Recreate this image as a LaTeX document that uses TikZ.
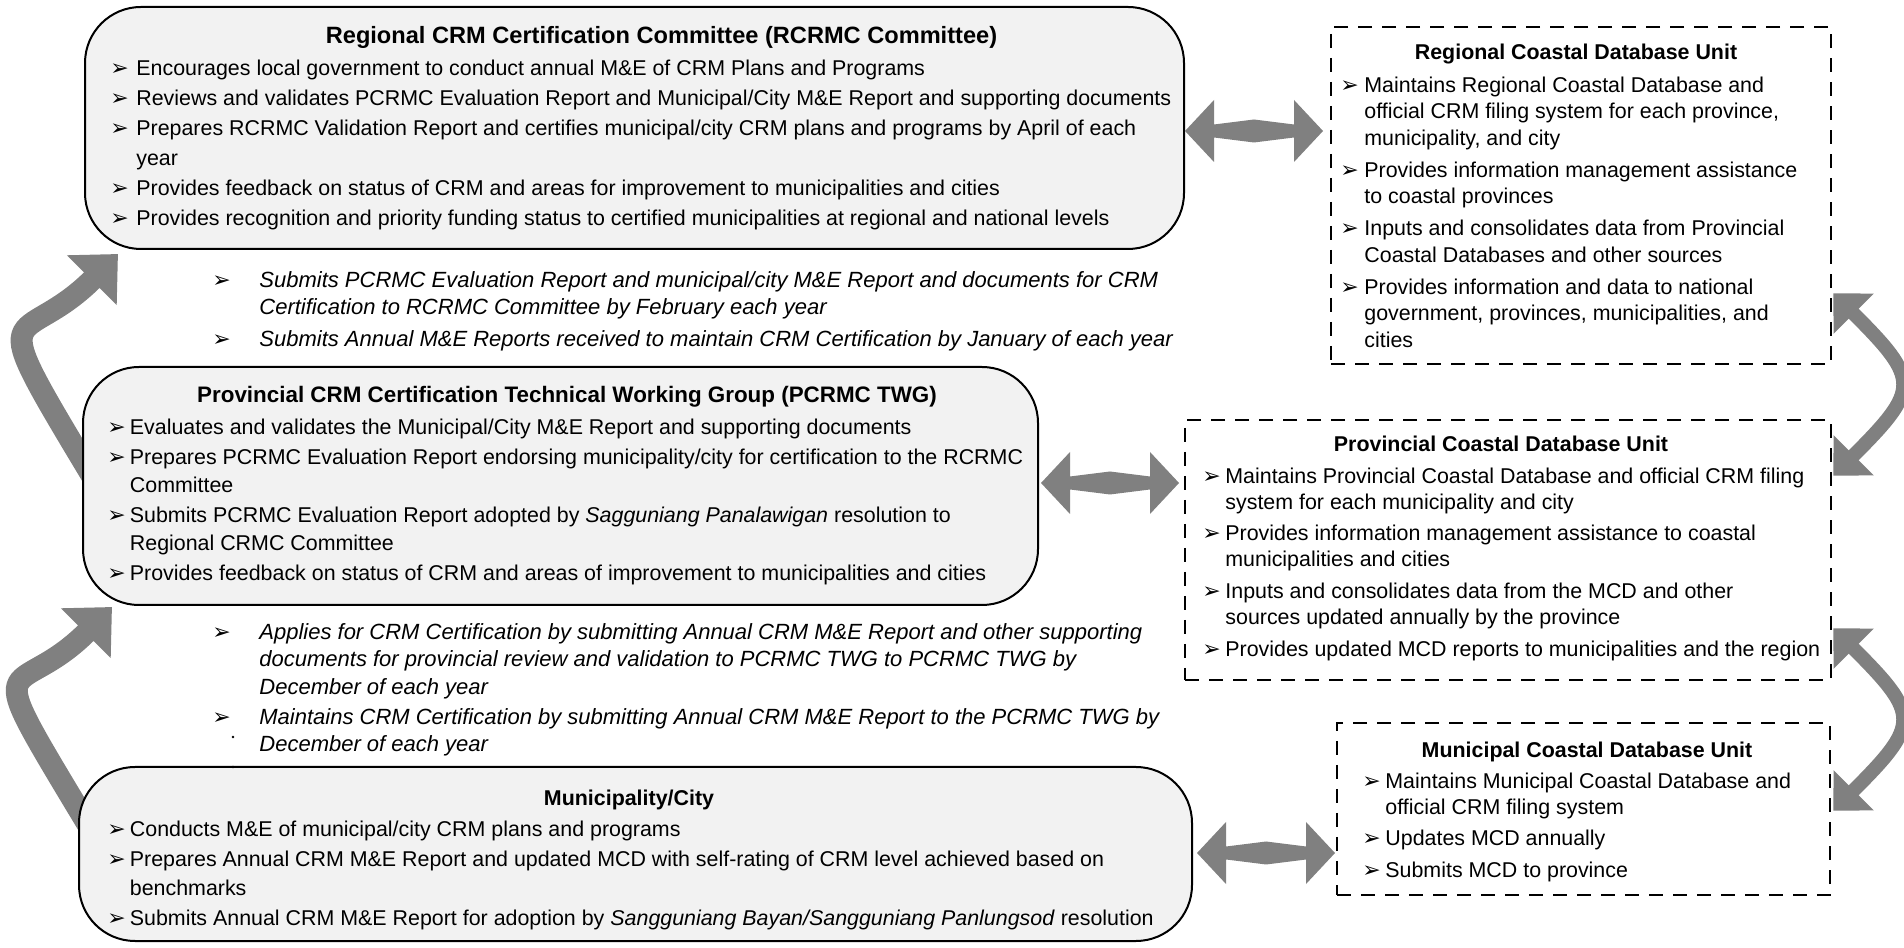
\documentclass[tikz,border=0pt]{standalone}
\usepackage{fontspec}
\setmainfont{Liberation Sans}
\newfontfamily\bulfont{DejaVu Sans}
\usetikzlibrary{arrows.meta,positioning,calc,backgrounds}

\definecolor{boxfill}{HTML}{F2F2F2}
\definecolor{arrowgray}{HTML}{808080}

\newcommand{\bul}[1][12pt]{\makebox[#1][l]{\bulfont\fontsize{11}{11}\selectfont ➢}}
\newcommand{\ind}[1][12pt]{\hspace*{#1}}
\newcommand{\tstrut}{\rule{0pt}{8.5pt}}

\begin{document}
\begin{tikzpicture}[
x=0.5pt, y=0.5pt,
font=\fontsize{10.7}{15}\selectfont,
crmbox/.style={draw, line width=1pt, rounded corners=28pt, fill=boxfill, inner sep=0pt},
dbbox/.style={draw, line width=1.2pt, dash pattern=on 7pt off 5pt, inner sep=0pt},
boxtitle/.style={font=\fontsize{10.7}{13}\selectfont\bfseries, inner sep=0pt, anchor=base},
bullets/.style={align=left, inner sep=0pt, anchor=north west},
bendarrow/.style={arrowgray, line width=11pt, -{Triangle[length=18.5pt,width=34pt]}},
sidearrow/.style={arrowgray, line width=7pt, {Triangle[length=14.5pt,width=27.5pt]}-{Triangle[length=14.5pt,width=27.5pt]}},
biarrow/.pic={\fill[arrowgray] (-69,0) -- (-40,31) -- (-40,6.5) -- (0,11.5) -- (40,6.5) -- (40,31)
  -- (69,0) -- (40,-31) -- (40,-6.5) -- (0,-11.5) -- (-40,-6.5) -- (-40,-31) -- cycle;}
]
\useasboundingbox (0,0) rectangle (1904,947);

% Certification boxes
\node[crmbox, minimum width=549.5pt, minimum height=121pt] (rcrmc) at (634.5,819) {};
\node[crmbox, minimum width=477.5pt, minimum height=119pt] (twg) at (560.5,461) {};
\node[crmbox, minimum width=556.5pt, minimum height=87pt] (muni) at (635.5,93) {};

% Database units
\node[dbbox, minimum width=250pt, minimum height=168.5pt] (rcdu) at (1581,751.5) {};
\node[dbbox, minimum width=323pt, minimum height=130pt] (pcdu) at (1508,397) {};
\node[dbbox, minimum width=246.5pt, minimum height=86pt] (mcdu) at (1583.5,138) {};

% Titles
\node[boxtitle, font=\fontsize{11.8}{13}\selectfont\bfseries] (rcrmc-title) at (661.5,903) {Regional CRM Certification Committee (RCRMC Committee)};
\node[boxtitle, font=\fontsize{11.2}{13}\selectfont\bfseries] (twg-title) at (567,544) {Provincial CRM Certification Technical Working Group (PCRMC TWG)};
\node[boxtitle] (muni-title) at (629,141) {Municipality/City};
\node[boxtitle] (rcdu-title) at (1576,887) {Regional Coastal Database Unit};
\node[boxtitle] (pcdu-title) at (1501,495) {Provincial Coastal Database Unit};
\node[boxtitle] (mcdu-title) at (1587,189) {Municipal Coastal Database Unit};

% Box contents
\node[bullets] (rcrmc-list) at (110,889) {\tstrut\bul[13pt]Encourages local government to conduct annual M\&E of CRM Plans and Programs\\
  \bul[13pt]Reviews and validates PCRMC Evaluation Report and Municipal/City M\&E Report and supporting documents\\
  \bul[13pt]Prepares RCRMC Validation Report and certifies municipal/city CRM plans and programs by April of each\\
  \ind[13pt]year\\
  \bul[13pt]Provides feedback on status of CRM and areas for improvement to municipalities and cities\\
  \bul[13pt]Provides recognition and priority funding status to certified municipalities at regional and national levels};

\node[bullets, font=\fontsize{10.7}{14}\selectfont] (twg-list) at (107,530) {\tstrut\bul[11.25pt]Evaluates and validates the Municipal/City M\&E Report and supporting documents\\[1pt]
  \bul[11.25pt]Prepares PCRMC Evaluation Report endorsing municipality/city for certification to the RCRMC\\
  \ind[11.25pt]Committee\\[1pt]
  \bul[11.25pt]Submits PCRMC Evaluation Report adopted by \textit{Sagguniang Panalawigan} resolution to\\
  \ind[11.25pt]Regional CRMC Committee\\[1pt]
  \bul[11.25pt]Provides feedback on status of CRM and areas of improvement to municipalities and cities};

\node[bullets, font=\fontsize{10.7}{14.5}\selectfont] (muni-list) at (107,128) {\tstrut\bul[11.25pt]Conducts M\&E of municipal/city CRM plans and programs\\[0.5pt]
  \bul[11.25pt]Prepares Annual CRM M\&E Report and updated MCD with self-rating of CRM level achieved based on\\
  \ind[11.25pt]benchmarks\\[0.5pt]
  \bul[11.25pt]Submits Annual CRM M\&E Report for adoption by \textit{Sangguniang Bayan/Sangguniang Panlungsod} resolution};

\node[bullets, font=\fontsize{10.7}{13.3}\selectfont] (rcdu-list) at (1340,872) {\tstrut\bul Maintains Regional Coastal Database and\\
  \ind official CRM filing system for each province,\\
  \ind municipality, and city\\[2.6pt]
  \bul Provides information management assistance\\
  \ind to coastal provinces\\[2.6pt]
  \bul Inputs and consolidates data from Provincial\\
  \ind Coastal Databases and other sources\\[2.6pt]
  \bul Provides information and data to national\\
  \ind government, provinces, municipalities, and\\
  \ind cities};

\node[bullets, font=\fontsize{10.7}{13}\selectfont] (pcdu-list) at (1202,481) {\tstrut\bul[11.5pt]Maintains Provincial Coastal Database and official CRM filing\\
  \ind[11.5pt]system for each municipality and city\\[2.8pt]
  \bul[11.5pt]Provides information management assistance to coastal\\
  \ind[11.5pt]municipalities and cities\\[2.8pt]
  \bul[11.5pt]Inputs and consolidates data from the MCD and other\\
  \ind[11.5pt]sources updated annually by the province\\[2.8pt]
  \bul[11.5pt]Provides updated MCD reports to municipalities and the region};

\node[bullets, font=\fontsize{10.7}{13}\selectfont] (mcdu-list) at (1362,176) {\tstrut\bul[11.5pt]Maintains Municipal Coastal Database and\\
  \ind[11.5pt]official CRM filing system\\[2.8pt]
  \bul[11.5pt]Updates MCD annually\\[2.8pt]
  \bul[11.5pt]Submits MCD to province};

% Submissions between levels
\node[bullets, font=\fontsize{11}{13.5}\selectfont\itshape] (notes-up) at (212,677) {\tstrut\bul[23.5pt]Submits PCRMC Evaluation Report and municipal/city M\&E Report and documents for CRM\\
  \ind[23.5pt]Certification to RCRMC Committee by February each year\\[2.5pt]
  \bul[23.5pt]Submits Annual M\&E Reports received to maintain CRM Certification by January of each year};

\node[bullets, font=\fontsize{11}{13.7}\selectfont\itshape] (notes-low) at (212,325) {\tstrut\bul[23.5pt]Applies for CRM Certification by submitting Annual CRM M\&E Report and other supporting\\
  \ind[23.5pt]documents for provincial review and validation to PCRMC TWG to PCRMC TWG by\\
  \ind[23.5pt]December of each year\\[1.5pt]
  \bul[23.5pt]Maintains CRM Certification by submitting Annual CRM M\&E Report to the PCRMC TWG by\\
  \ind[23.5pt]December of each year};
\fill (233,210) circle (1.3);
\fill (233,180) circle (1.3);

% Two-way links to the database units
\pic at ($(rcrmc.east)+(69,-3)$) {biarrow};
\pic at ($(twg.east)+(71,3)$) {biarrow};
\pic at ($(muni.east)+(73,1)$) {biarrow};

% Curved arrows behind the boxes
\begin{pgfonlayer}{background}
  \draw[bendarrow] ($(twg.west)+(10,10)$) .. controls +(-113,188) and +(-99,-99) .. ($(rcrmc.south west)+(34,-4)$);
  \draw[bendarrow] ($(muni.west)+(10,29)$) .. controls +(-113,188) and +(-99,-99) .. ($(twg.south west)+(30,-1)$);
  \draw[sidearrow] ($(rcdu.south east)+(1,72)$) .. controls +(87,-87) and +(87,87) .. ($(pcdu.north east)+(1,-57)$);
  \draw[sidearrow] ($(pcdu.south east)+(1,53)$) .. controls +(87,-87) and +(87,87) .. ($(mcdu.north east)+(2,-89)$);
\end{pgfonlayer}

\end{tikzpicture}
\end{document}
